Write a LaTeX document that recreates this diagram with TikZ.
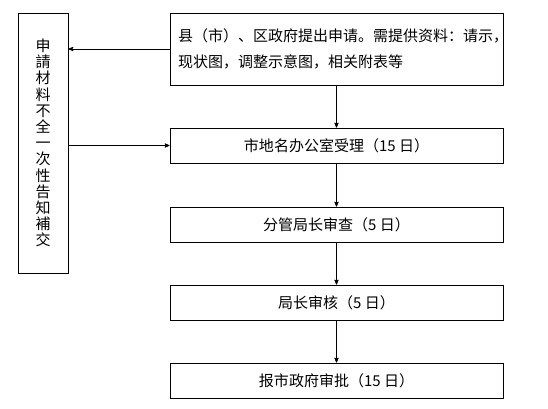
\documentclass[tikz,border=0pt]{standalone}
\usepackage{fontspec}
\setmainfont{Noto Sans CJK SC}
\usetikzlibrary{arrows}

\begin{document}
\begin{tikzpicture}[->,>=stealth',x=1pt,y=-1pt,line width=0.8pt,
  box node/.style={rectangle,draw,minimum width=333pt,minimum height=35pt,
    inner sep=0pt,font=\fontsize{15pt}{18pt}\selectfont}]

  \useasboundingbox (0,0) rectangle (548,408);

  \node[box node,minimum height=72pt,text width=317pt,inner xsep=8pt,align=left,
    font=\fontsize{15pt}{26pt}\selectfont] (apply) at (336.5,49)
    {县（市）、区政府提出申请。需提供资料：请示，\\现状图，调整示意图，相关附表等};
  \node[box node,minimum width=50pt,minimum height=260pt,align=center,
    font=\fontsize{15pt}{16.2pt}\selectfont] (notice) at (43,143)
    {申\\請\\材\\料\\不\\全\\一\\次\\性\\告\\知\\補\\交};
  \node[box node] (accept) at (336.5,145.5) {市地名办公室受理（15 日）};
  \node[box node] (review) at (336.5,224.5) {分管局长审查（5 日）};
  \node[box node] (check)  at (336.5,302.5) {局长审核（5 日）};
  \node[box node] (report) at (336.5,380.5) {报市政府审批（15 日）};

  \path
    (apply.west) edge (apply.west -| notice.east)
    (notice.east |- accept.west) edge (accept.west)
    (apply) edge (accept)
    (accept) edge (review)
    (review) edge (check)
    (check) edge (report);
\end{tikzpicture}
\end{document}
